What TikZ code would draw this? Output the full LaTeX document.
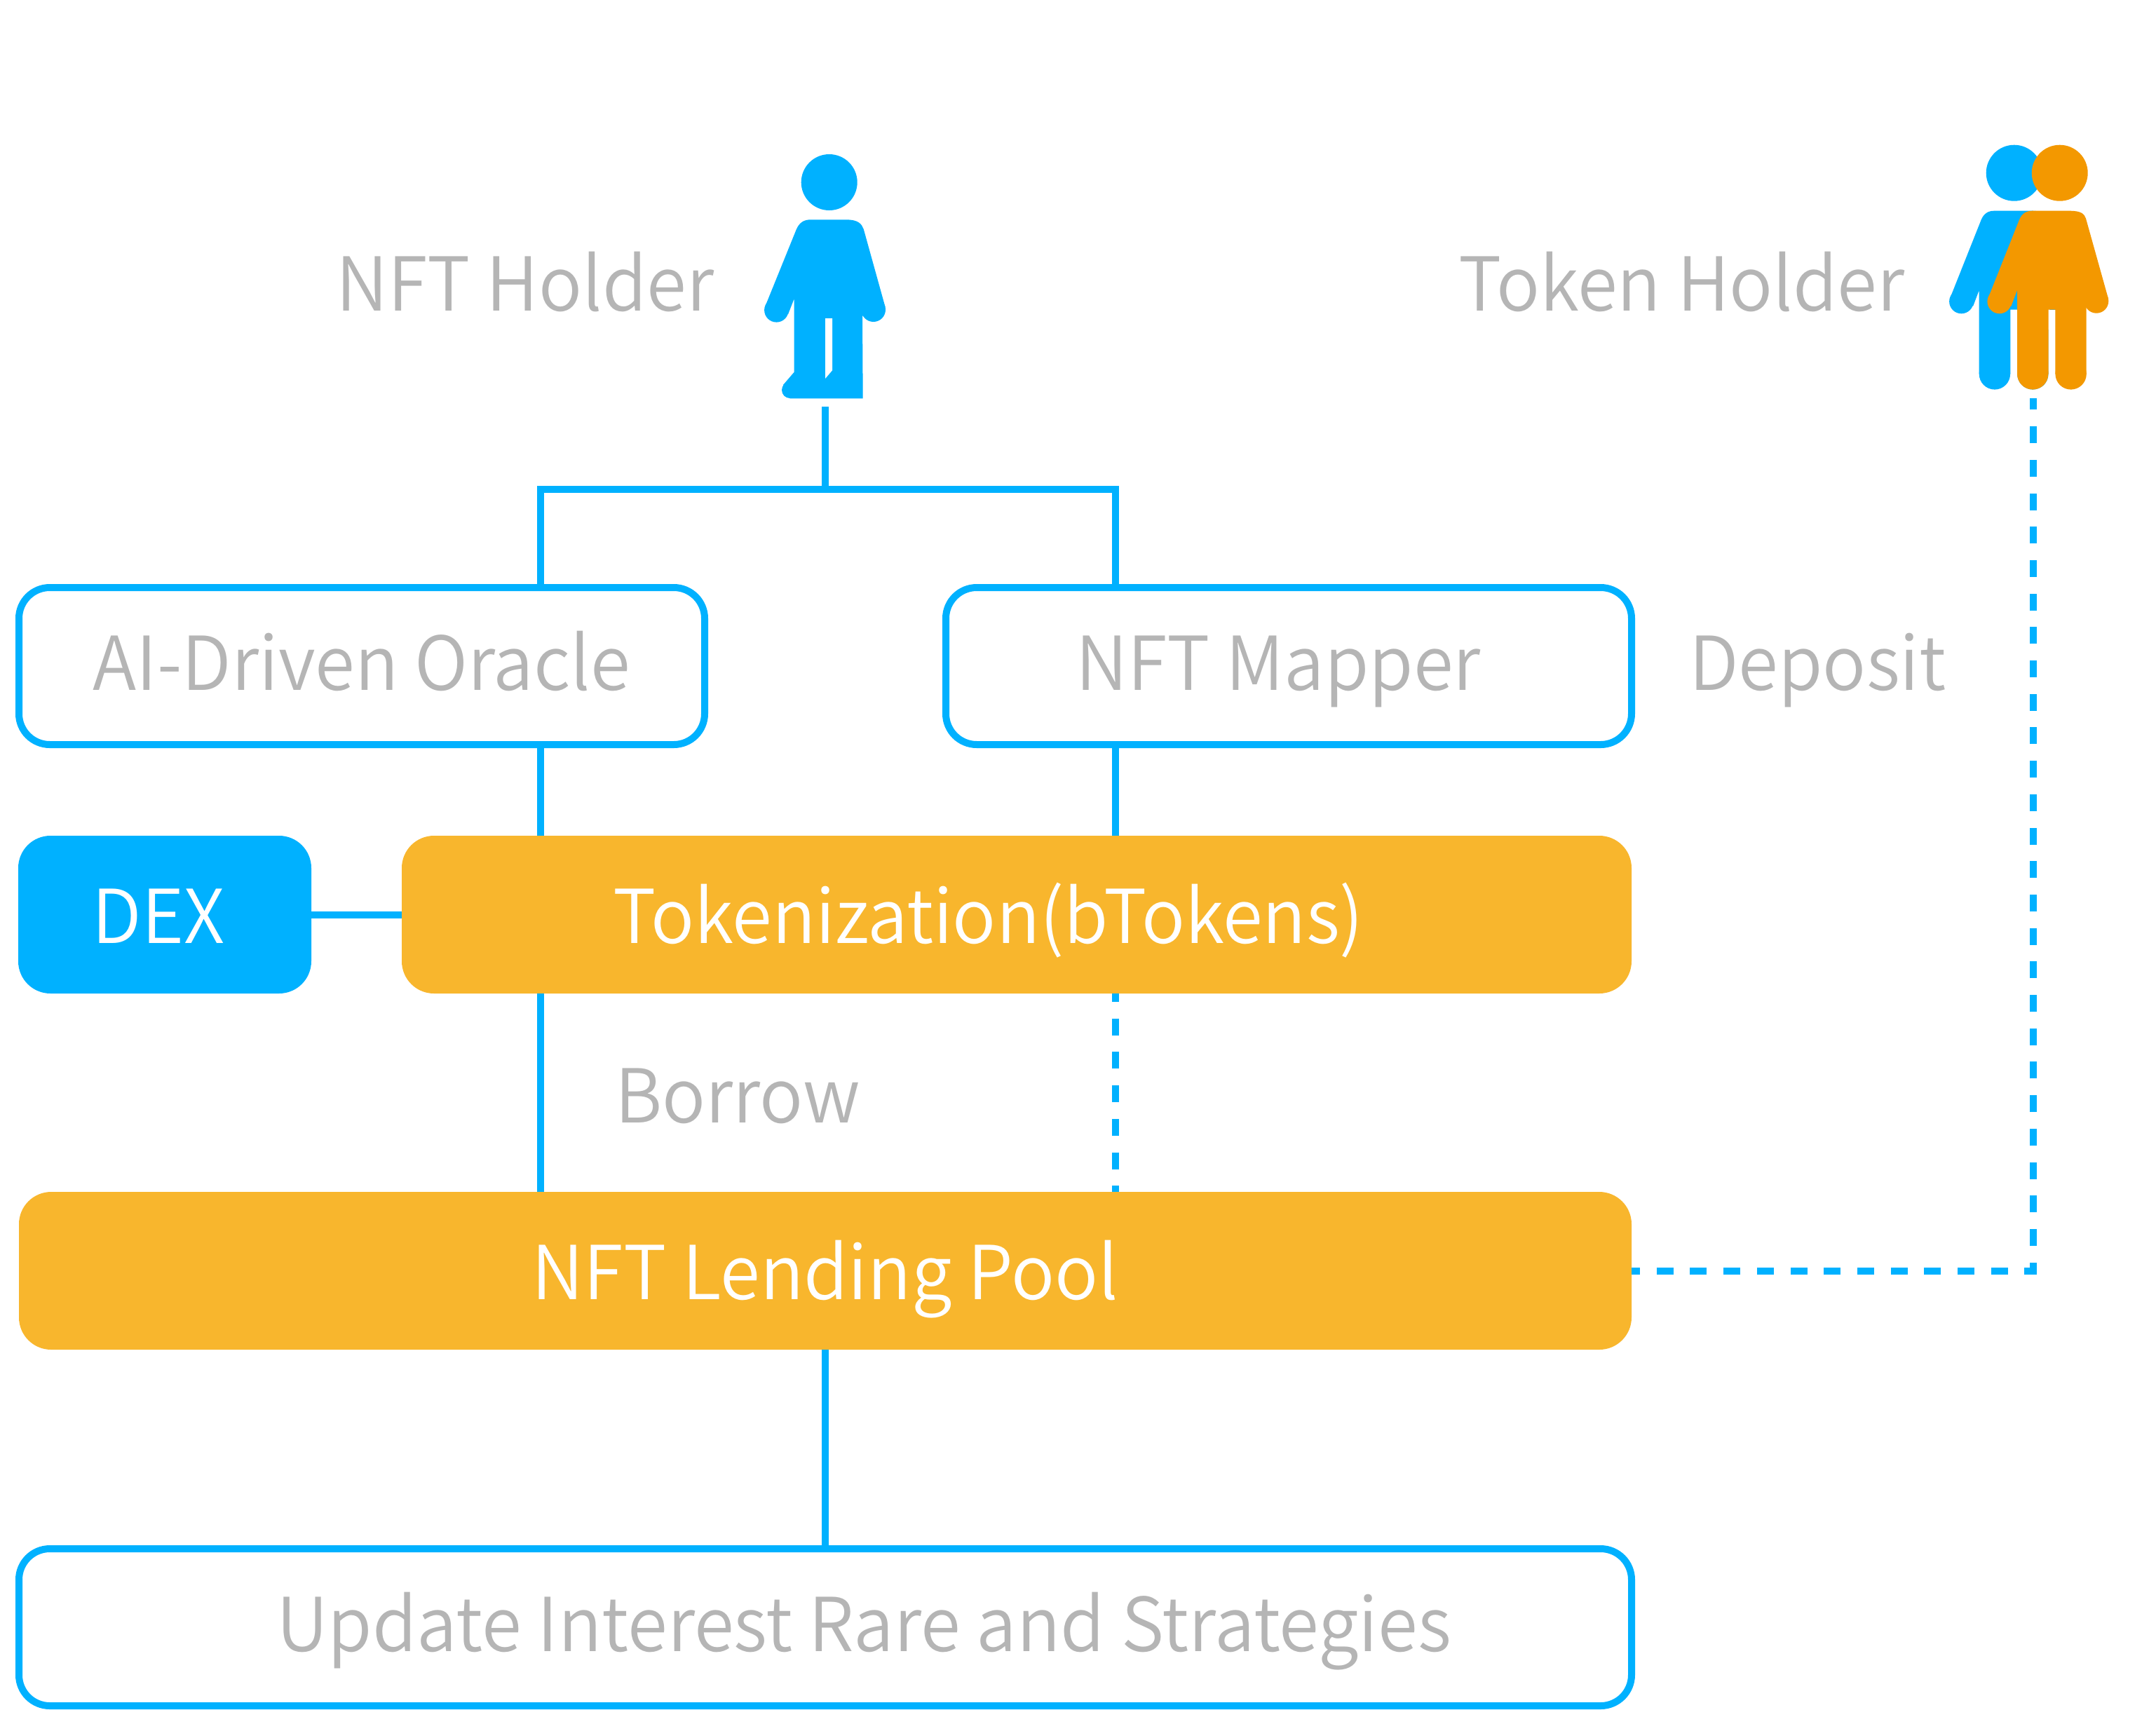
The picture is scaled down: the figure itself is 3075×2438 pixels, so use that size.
\documentclass[tikz,border=0pt]{standalone}
\usepackage{fontspec}
\setmainfont{Noto Sans CJK SC DemiLight}[FakeStretch=0.973]
\usepackage{xcolor}
\definecolor{linkblue}{HTML}{00B1FF}
\definecolor{pooltone}{HTML}{F8B62D}
\definecolor{holdertone}{HTML}{F39800}
\definecolor{labelgray}{HTML}{B5B5B5}
\begin{document}
\begin{tikzpicture}[
        x=0.5pt, y=-0.5pt,
        box/.style={rectangle, draw=linkblue, line width=5pt, fill=white, rounded corners=22pt, outer sep=0pt, text=labelgray, font=\fontsize{53}{60}\selectfont, text height=34pt, text depth=0pt, inner sep=0pt},
        solidbox/.style={rectangle, rounded corners=23pt, outer sep=0pt, text=white, font=\fontsize{53}{60}\selectfont, text height=41pt, text depth=0pt, inner sep=0pt},
        caption/.style={anchor=base west, text=labelgray, font=\fontsize{53}{60}\selectfont, inner sep=0pt},
        link/.style={draw=linkblue, line width=5pt},
        dashlink/.style={link, dash pattern=on 12pt off 11.85pt, dash phase=6pt},
        torso/.pic={
            \fill (-39.3,54) -- (14,54) .. controls (30,54) and (35,58) .. (37.3,65) -- (69,178.3) -- (38,191.7) -- (38,286.7) -- (-6.3,286.7) -- (-6.3,195) -- (-16,195) -- (-16,286.7) -- (-60.7,286.7) -- (-60.7,167.3) -- (-69.3,190) -- (-101.7,177.3) -- (-57.7,66.7) .. controls (-54,58) and (-48,54) .. (-39.3,54) -- cycle;
            \fill (52.3,182.7) circle [radius=17.3];
            \fill (-86,183.3) circle [radius=17.3];
            \fill (15.9,286.7) circle [radius=22.2];
            \fill (-38.5,286.7) circle [radius=22.2];
        }
    ]
        \useasboundingbox (0,0) rectangle (3075,2438);

        % Holders
        \fill[linkblue] (1182.7,260) circle [radius=40];
        \fill[linkblue] (1156,313.3) -- (1206.7,313.3) .. controls (1225,313.3) and (1229,320) .. (1231.7,326.7) -- (1262.7,438.3) -- (1230,450.7) -- (1230.7,568.3) -- (1126.7,568.3) -- (1117,549) -- (1132.7,530.7) -- (1132.7,426) -- (1124,448.3) -- (1091.7,436) -- (1136,326.7) .. controls (1140,318) and (1146,313.3) .. (1156,313.3) -- cycle;
        \fill[linkblue] (1245.7,441.7) circle [radius=17.3];
        \fill[linkblue] (1107.4,442.3) circle [radius=17.3];
        \fill[linkblue] (1126.7,556.3) circle [radius=11.7];
        \fill[white] (1177,454) -- (1187,454) -- (1187,528.3) -- (1177,540) -- cycle;
        \fill[linkblue] (2872.7,246.7) circle [radius=40];
        \pic[linkblue] at (2883.4,246.7) {torso};
        \fill[white] (2915,441.7) rectangle (2945,470);
        \fill[holdertone] (2937.7,246.7) circle [radius=40];
        \pic[holdertone] at (2937.7,246.7) {torso};

        \coordinate (nftfoot) at (1177,580);
        \coordinate (tokenfoot) at (2899.5,568);
        \coordinate (oraclebus) at (771,698);
        \coordinate (mapperbus) at (1591,698);

        % Boxes
        \node[box, minimum width=489pt, minimum height=112pt] (oracle) at (516,950) {AI-Driven Oracle};
        \node[box, minimum width=489pt, minimum height=112pt] (mapper) at (1838,950) {\hspace*{-15pt}NFT Mapper};
        \node[solidbox, fill=linkblue, minimum width=209pt, minimum height=112.5pt] (dex) at (235,1304.5) {\hspace*{-9pt}DEX};
        \node[solidbox, fill=pooltone, minimum width=877pt, minimum height=112.5pt] (token) at (1450,1304.5) {\hspace*{-40pt}Tokenization(bTokens)};
        \node[solidbox, fill=pooltone, minimum width=1150pt, minimum height=112.5pt] (pool) at (1177,1812.5) {NFT Lending Pool};
        \node[box, minimum width=1150pt, minimum height=112pt] (update) at (1177,2321) {\hspace*{55pt}Update Interest Rare and Strategies};

        % Connectors
        \draw[link] (nftfoot) -- (nftfoot |- oraclebus);
        \draw[link] (oraclebus |- oracle.north) -- (oraclebus) -- (mapperbus) -- (mapperbus |- mapper.north);
        \draw[link] (oraclebus |- oracle.south) -- (oraclebus |- token.north);
        \draw[link] (mapperbus |- mapper.south) -- (mapperbus |- token.north);
        \draw[link] (oraclebus |- token.south) -- (oraclebus |- pool.north);
        \draw[dashlink] (mapperbus |- token.south) -- (mapperbus |- pool.north);
        \draw[link] (dex) -- (token);
        \draw[link] (pool.south) -- (pool.south |- update.north);
        \coordinate (tokenbend) at (tokenfoot |- pool.east);
        \draw[dashlink] (pool.east) -- (tokenbend) -- (tokenfoot);

        % Captions
        \node[caption] (nftholder) at (479,443) {NFT Holder};
        \node[caption] (tokenholder) at (2080,443) {Token Holder};
        \node[caption] (deposit) at (2409,984) {Deposit};
        \node[caption] (borrow) at (877,1601) {Borrow};
\end{tikzpicture}
\end{document}
